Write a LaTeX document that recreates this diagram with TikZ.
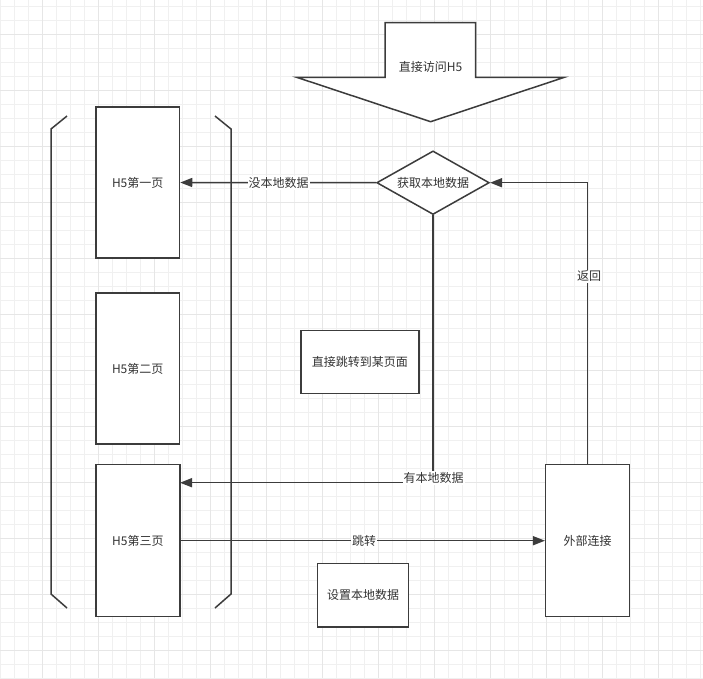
\documentclass[tikz,border=0pt]{standalone}
\usepackage{fontspec}
\setmainfont{Noto Sans CJK SC}
\usetikzlibrary{arrows.meta,shapes.geometric}
\definecolor{ink}{HTML}{3C3C3C}
\definecolor{txt}{HTML}{333333}
\definecolor{gminor}{HTML}{F0F0F0}
\definecolor{gmajor}{HTML}{E6E6E6}
\tikzset{
  ln/.style={draw=ink, line width=1.5pt},
  box/.style={ln, fill=white, rectangle, inner sep=0pt, text=txt, font=\fontsize{12}{14}\selectfont},
  lbl/.style={fill=white, inner sep=1pt, text=txt, font=\fontsize{12}{14}\selectfont},
  arr/.style={ln, -{Triangle[length=12pt,width=9pt]}},
}
\begin{document}
\begin{tikzpicture}[x=1pt,y=-1pt]
\useasboundingbox (0,0) rectangle (703,678);
\fill[white] (0,0) rectangle (703,678);
% grid
\foreach \i in {0,...,50} {
  \pgfmathsetmacro\xx{14*\i}
  \draw[gminor, line width=0.8pt] (\xx,0) -- (\xx,678);
}
\foreach \i in {0,...,48} {
  \pgfmathsetmacro\yy{6+14*\i}
  \draw[gminor, line width=0.8pt] (0,\yy) -- (703,\yy);
}
\foreach \i in {0,...,12} {
  \pgfmathsetmacro\xx{42+56*\i}
  \draw[gmajor, line width=0.8pt] (\xx,0) -- (\xx,678);
}
\foreach \i in {0,...,11} {
  \pgfmathsetmacro\yy{34+56*\i}
  \draw[gmajor, line width=0.8pt] (0,\yy) -- (703,\yy);
}
% brackets
\draw[ln] (67,116) -- (51,129) -- (51,594) -- (67,608);
\draw[ln] (215,116) -- (231,129) -- (231,594) -- (215,608);
% big arrow
\draw[ln, fill=white, line join=miter] (385,22.7) -- (475.7,22.7) -- (475.7,77.3) -- (564.3,77.3) -- (430.7,121.7) -- (296.7,77.3) -- (385,77.3) -- cycle;
\node[lbl, fill=none] (top) at (430.5,67) {直接访问H5};
% nodes
\node[box, minimum width=83.6pt, minimum height=151pt] (p1) at (137.7,182.5) {H5第一页};
\node[box, minimum width=83.6pt, minimum height=151pt] (p2) at (137.7,368.5) {H5第二页};
\node[box, minimum width=84pt, minimum height=152pt] (p3) at (137.8,540.7) {H5第三页};
\node[box, minimum width=118.3pt, minimum height=62.6pt] (jump) at (359.9,362) {直接跳转到某页面};
\node[box, minimum width=90.6pt, minimum height=63.3pt] (set) at (363,595.3) {设置本地数据};
\node[box, minimum width=83.6pt, minimum height=152pt] (ext) at (587.5,540.7) {外部连接};
\node[box, diamond, shape aspect=1.77, minimum width=112.6pt, minimum height=63.6pt] (dia) at (433,182.7) {获取本地数据};
\coordinate (c3) at (180,482.7);
% connectors
\draw[arr] (dia.west) -- (p1.east);
\node[lbl] (l1) at (278.5,183) {没本地数据};
\draw[arr] (dia.south) |- (c3);
\node[lbl] (l2) at (433.5,478) {有本地数据};
\draw[arr] (p3.east) -- (ext.west);
\node[lbl] (l3) at (364,541) {跳转};
\draw[arr] (ext.north) |- (dia.east);
\node[lbl] (l4) at (589,276.5) {返回};
\end{tikzpicture}
\end{document}
